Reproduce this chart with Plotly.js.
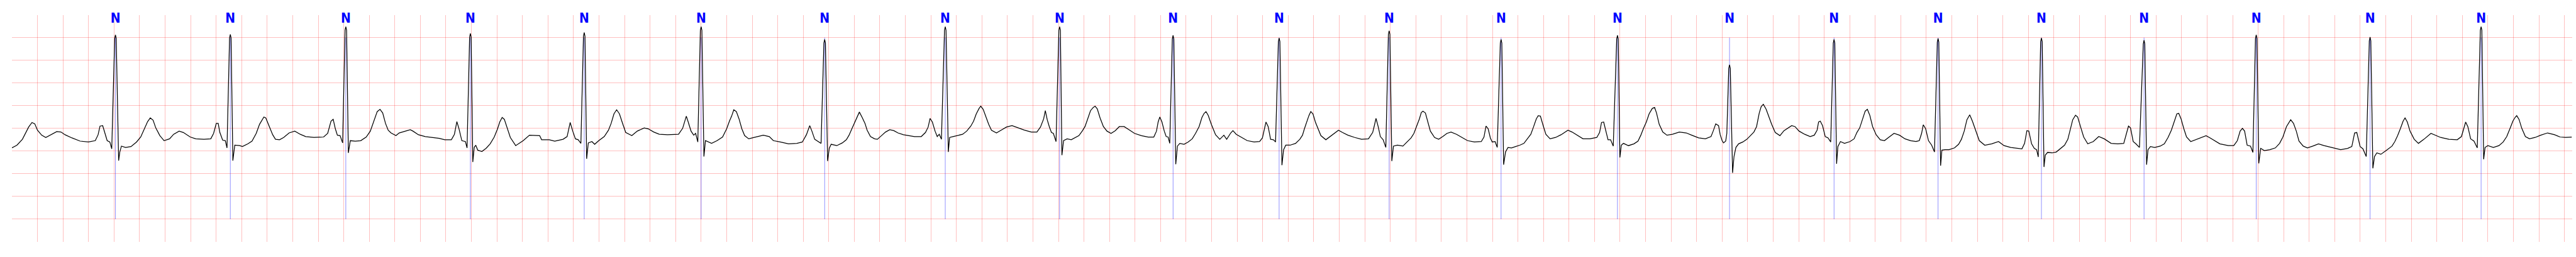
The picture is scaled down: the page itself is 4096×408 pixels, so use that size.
<!DOCTYPE html>
<html>
<head>
<meta charset="utf-8">
<script src="https://cdn.plot.ly/plotly-3.0.1.min.js"></script>
<style>html,body{margin:0;padding:0;background:#fff;}#chart{width:4096px;height:408px;}</style>
</head>
<body>
<div id="chart"></div>
<script>
// ECG samples: [time (s), amplitude (mV)]
const ecg_points = [
[0.000,-0.93],[0.039,-0.87],[0.082,-0.74],[0.114,-0.56],[0.131,-0.47],[0.157,-0.37],[0.179,-0.40],[0.200,-0.54],[0.233,-0.65],[0.265,-0.70],[0.308,-0.63],[0.351,-0.57],[0.384,-0.58],[0.416,-0.64],[0.470,-0.71],[0.534,-0.78],[0.599,-0.80],[0.653,-0.77],[0.675,-0.64],[0.690,-0.45],[0.711,-0.44],[0.724,-0.56],[0.746,-0.77],[0.767,-0.80],[0.782,-0.95],
[0.805,1.48],[0.811,1.56],[0.817,1.48],[0.836,-1.21],
[0.845,-1.02],[0.858,-0.89],[0.890,-0.92],[0.933,-0.90],[0.976,-0.80],[1.009,-0.69],[1.041,-0.49],[1.063,-0.35],[1.084,-0.27],[1.106,-0.32],[1.127,-0.49],[1.159,-0.66],[1.192,-0.77],[1.235,-0.73],[1.267,-0.63],[1.310,-0.56],[1.343,-0.59],[1.397,-0.69],[1.440,-0.73],[1.504,-0.74],[1.558,-0.73],[1.580,-0.61],[1.601,-0.39],[1.616,-0.39],[1.629,-0.59],[1.651,-0.76],[1.672,-0.77],[1.685,-0.93],
[1.705,1.49],[1.711,1.57],[1.717,1.49],[1.731,-1.21],
[1.746,-0.87],[1.784,-0.88],[1.806,-0.90],[1.849,-0.84],[1.881,-0.78],[1.914,-0.61],[1.940,-0.41],[1.974,-0.25],[1.989,-0.27],[2.022,-0.51],[2.043,-0.64],[2.065,-0.74],[2.097,-0.75],[2.129,-0.70],[2.172,-0.60],[2.216,-0.56],[2.259,-0.63],[2.302,-0.68],[2.366,-0.70],[2.442,-0.69],[2.474,-0.61],[2.500,-0.34],[2.517,-0.30],[2.534,-0.51],[2.550,-0.65],[2.571,-0.66],[2.591,-0.82],
[2.610,1.66],[2.616,1.74],[2.622,1.66],[2.636,-1.04],
[2.651,-0.77],[2.690,-0.78],[2.733,-0.77],[2.776,-0.69],[2.808,-0.56],[2.836,-0.34],[2.862,-0.13],[2.884,-0.08],[2.905,-0.16],[2.927,-0.39],[2.948,-0.54],[2.970,-0.60],[3.009,-0.66],[3.034,-0.60],[3.078,-0.56],[3.121,-0.53],[3.142,-0.56],[3.185,-0.64],[3.239,-0.68],
[3.262,-0.69],[3.305,-0.71],[3.348,-0.72],[3.391,-0.75],[3.443,-0.75],[3.467,-0.63],[3.486,-0.35],[3.503,-0.51],[3.525,-0.77],[3.553,-0.79],[3.566,-0.93],
[3.586,1.51],[3.592,1.59],[3.598,1.51],[3.611,-1.24],
[3.622,-0.92],[3.634,-0.87],[3.650,-0.98],[3.682,-1.01],[3.715,-0.94],[3.747,-0.84],[3.779,-0.69],[3.805,-0.51],[3.822,-0.36],[3.841,-0.26],[3.858,-0.30],[3.883,-0.51],[3.905,-0.70],[3.947,-0.88],[3.973,-0.83],[4.006,-0.77],[4.055,-0.65],[4.092,-0.65],[4.135,-0.66],[4.150,-0.75],[4.210,-0.75],[4.253,-0.78],[4.318,-0.74],[4.350,-0.68],[4.374,-0.37],[4.394,-0.56],[4.415,-0.73],[4.437,-0.75],[4.458,-0.83],
[4.478,1.53],[4.484,1.61],[4.490,1.53],[4.503,-1.17],
[4.516,-0.82],[4.544,-0.79],[4.566,-0.85],[4.598,-0.77],[4.641,-0.68],[4.674,-0.54],[4.695,-0.39],[4.717,-0.18],[4.738,-0.09],[4.760,-0.18],[4.781,-0.36],[4.809,-0.59],[4.857,-0.66],[4.900,-0.56],[4.954,-0.49],[4.986,-0.51],[5.029,-0.58],[5.072,-0.63],[5.137,-0.64],[5.191,-0.63],[5.223,-0.63],[5.255,-0.50],[5.284,-0.23],[5.299,-0.36],[5.321,-0.56],[5.342,-0.65],[5.357,-0.61],[5.374,-0.80],
[5.394,1.66],[5.400,1.74],[5.406,1.66],[5.422,-1.12],
[5.434,-0.77],[5.482,-0.83],[5.525,-0.77],[5.568,-0.69],[5.600,-0.51],[5.622,-0.34],[5.639,-0.23],[5.656,-0.09],[5.676,-0.13],[5.697,-0.29],[5.719,-0.51],[5.741,-0.66],[5.773,-0.73],[5.816,-0.70],[5.848,-0.68],[5.887,-0.65],[5.934,-0.68],[5.966,-0.77],[6.020,-0.80],[6.085,-0.84],[6.150,-0.83],[6.193,-0.80],[6.225,-0.64],[6.251,-0.44],[6.268,-0.56],[6.290,-0.74],[6.312,-0.78],[6.340,-0.83],
[6.362,1.38],[6.368,1.46],[6.374,1.38],[6.391,-1.22],
[6.404,-0.94],[6.419,-0.85],[6.463,-0.88],[6.506,-0.82],[6.538,-0.75],[6.559,-0.65],[6.581,-0.51],[6.613,-0.31],[6.640,-0.14],[6.662,-0.26],[6.684,-0.39],[6.701,-0.54],[6.727,-0.68],[6.759,-0.73],[6.781,-0.74],[6.813,-0.66],[6.845,-0.58],[6.878,-0.53],[6.910,-0.55],[6.942,-0.60],[6.985,-0.64],[7.028,-0.66],[7.072,-0.68],[7.125,-0.68],[7.158,-0.59],[7.179,-0.47],[7.194,-0.28],[7.212,-0.36],[7.233,-0.56],[7.250,-0.68],[7.266,-0.63],[7.283,-0.74],
[7.307,1.66],[7.313,1.74],[7.319,1.66],[7.337,-1.02],
[7.347,-0.70],[7.373,-0.68],[7.416,-0.65],[7.449,-0.63],[7.481,-0.56],[7.513,-0.45],[7.535,-0.34],[7.556,-0.18],[7.578,-0.06],[7.591,-0.01],[7.610,-0.08],[7.632,-0.26],[7.653,-0.41],[7.675,-0.54],[7.714,-0.60],[7.750,-0.54],[7.793,-0.47],[7.836,-0.44],[7.891,-0.50],[7.934,-0.54],[7.987,-0.58],[8.031,-0.58],[8.059,-0.47],[8.084,-0.29],[8.097,-0.11],[8.112,-0.31],[8.128,-0.46],[8.145,-0.59],[8.160,-0.61],[8.181,-0.79],
[8.203,1.66],[8.209,1.74],[8.215,1.66],[8.227,-1.09],
[8.240,-0.77],[8.268,-0.73],[8.300,-0.75],[8.332,-0.70],[8.360,-0.66],[8.386,-0.56],[8.408,-0.46],[8.429,-0.29],[8.451,-0.11],[8.472,-0.04],[8.487,-0.01],[8.504,-0.07],[8.526,-0.27],[8.552,-0.46],[8.580,-0.56],[8.612,-0.61],[8.645,-0.55],[8.677,-0.46],[8.714,-0.46],[8.753,-0.53],[8.796,-0.61],[8.850,-0.66],[8.903,-0.69],[8.947,-0.69],[8.968,-0.56],[8.981,-0.36],[8.994,-0.25],[9.011,-0.36],[9.029,-0.56],[9.044,-0.68],[9.059,-0.69],[9.072,-0.83],
[9.092,1.47],[9.098,1.55],[9.104,1.47],[9.119,-1.29],
[9.132,-0.89],[9.151,-0.83],[9.184,-0.85],[9.216,-0.80],[9.248,-0.73],[9.274,-0.61],[9.302,-0.46],[9.324,-0.26],[9.341,-0.17],[9.356,-0.13],[9.373,-0.21],[9.399,-0.42],[9.431,-0.64],[9.464,-0.74],[9.496,-0.65],[9.518,-0.74],[9.550,-0.60],[9.567,-0.55],[9.593,-0.63],[9.636,-0.70],[9.679,-0.77],[9.733,-0.80],[9.776,-0.79],[9.798,-0.71],[9.813,-0.54],[9.826,-0.36],[9.843,-0.46],[9.862,-0.74],[9.884,-0.75],[9.901,-0.80],
[9.923,1.41],[9.929,1.49],[9.935,1.41],[9.951,-1.31],
[9.964,-0.97],[9.981,-0.87],[10.015,-0.87],[10.058,-0.83],[10.091,-0.74],[10.112,-0.65],[10.127,-0.51],[10.144,-0.36],[10.162,-0.22],[10.177,-0.13],[10.194,-0.18],[10.213,-0.36],[10.235,-0.51],[10.256,-0.66],[10.295,-0.75],[10.338,-0.66],[10.371,-0.59],[10.394,-0.54],[10.425,-0.59],[10.468,-0.65],[10.522,-0.70],[10.575,-0.74],[10.629,-0.73],[10.662,-0.59],[10.675,-0.44],[10.688,-0.28],[10.705,-0.46],[10.722,-0.68],[10.744,-0.75],[10.765,-0.92],
[10.785,1.57],[10.791,1.65],[10.797,1.57],[10.812,-1.22],
[10.825,-0.89],[10.856,-0.87],[10.899,-0.89],[10.931,-0.80],[10.963,-0.71],[10.985,-0.61],[11.006,-0.46],[11.028,-0.29],[11.043,-0.15],[11.056,-0.12],[11.075,-0.16],[11.093,-0.36],[11.114,-0.56],[11.147,-0.70],[11.179,-0.74],[11.211,-0.68],[11.244,-0.61],[11.276,-0.58],[11.319,-0.63],[11.362,-0.70],[11.405,-0.77],[11.459,-0.80],[11.513,-0.79],[11.534,-0.69],[11.550,-0.45],[11.567,-0.51],[11.584,-0.71],[11.599,-0.80],[11.621,-0.79],[11.638,-0.92],
[11.662,1.38],[11.668,1.46],[11.674,1.38],[11.688,-1.30],
[11.703,-1.02],[11.722,-0.92],[11.750,-0.93],[11.782,-0.90],[11.815,-0.87],[11.847,-0.83],[11.869,-0.75],[11.901,-0.63],[11.922,-0.47],[11.944,-0.29],[11.959,-0.22],[11.976,-0.23],[11.998,-0.44],[12.019,-0.63],[12.052,-0.73],[12.095,-0.70],[12.138,-0.64],[12.192,-0.54],[12.224,-0.58],[12.267,-0.65],[12.310,-0.73],[12.364,-0.73],[12.418,-0.70],[12.440,-0.59],[12.455,-0.37],[12.472,-0.36],[12.489,-0.56],[12.506,-0.75],[12.526,-0.75],[12.547,-0.89],
[12.574,1.47],[12.580,1.55],[12.586,1.47],[12.599,-1.14],
[12.610,-0.87],[12.627,-0.83],[12.666,-0.88],[12.709,-0.84],[12.741,-0.78],[12.763,-0.65],[12.784,-0.50],[12.806,-0.36],[12.828,-0.18],[12.853,-0.06],[12.871,-0.04],[12.886,-0.16],[12.907,-0.41],[12.935,-0.58],[12.968,-0.65],[13.011,-0.63],[13.065,-0.58],[13.119,-0.60],[13.162,-0.65],[13.216,-0.71],[13.269,-0.73],[13.313,-0.68],[13.330,-0.56],[13.350,-0.40],[13.372,-0.44],[13.385,-0.64],[13.400,-0.77],[13.411,-0.82],[13.428,-0.78],[13.437,-0.61],
[13.452,0.82],[13.458,0.90],[13.464,0.82],[13.482,-1.48],
[13.493,-1.12],[13.508,-0.92],[13.529,-0.84],[13.562,-0.80],[13.594,-0.74],[13.626,-0.65],[13.649,-0.58],[13.670,-0.46],[13.691,-0.16],[13.706,-0.02],[13.723,0.03],[13.745,-0.08],[13.767,-0.26],[13.788,-0.41],[13.816,-0.59],[13.853,-0.66],[13.885,-0.55],[13.917,-0.49],[13.945,-0.44],[13.971,-0.46],[14.003,-0.56],[14.047,-0.63],[14.090,-0.68],[14.122,-0.65],[14.144,-0.54],[14.156,-0.36],[14.169,-0.34],[14.187,-0.44],[14.208,-0.68],[14.230,-0.71],[14.251,-0.80],
[14.271,1.38],[14.277,1.46],[14.283,1.38],[14.297,-1.28],
[14.307,-0.90],[14.327,-0.79],[14.359,-0.83],[14.402,-0.79],[14.434,-0.73],[14.456,-0.59],[14.478,-0.49],[14.499,-0.30],[14.521,-0.12],[14.538,-0.08],[14.557,-0.21],[14.579,-0.46],[14.607,-0.64],[14.639,-0.75],[14.672,-0.77],[14.704,-0.70],[14.747,-0.61],[14.790,-0.65],[14.833,-0.73],[14.877,-0.77],[14.919,-0.79],[14.945,-0.77],[14.963,-0.61],[14.976,-0.42],[14.995,-0.51],[15.017,-0.77],[15.042,-0.87],[15.064,-1.02],
[15.086,1.40],[15.092,1.48],[15.098,1.40],[15.112,-1.32],
[15.122,-0.98],[15.146,-0.97],[15.178,-0.97],[15.221,-0.93],[15.253,-0.85],[15.275,-0.74],[15.297,-0.56],[15.318,-0.31],[15.340,-0.20],[15.361,-0.34],[15.383,-0.51],[15.415,-0.77],[15.458,-0.87],[15.512,-0.84],[15.566,-0.79],[15.609,-0.88],[15.662,-0.92],[15.717,-0.94],[15.749,-0.95],[15.770,-0.83],[15.788,-0.55],[15.803,-0.56],[15.825,-0.84],[15.846,-0.94],[15.864,-0.97],[15.877,-1.13],
[15.896,1.41],[15.902,1.49],[15.908,1.41],[15.922,-1.35],
[15.932,-1.09],[15.950,-1.03],[15.986,-1.04],[16.018,-1.02],[16.050,-0.95],[16.083,-0.87],[16.109,-0.74],[16.131,-0.50],[16.147,-0.31],[16.169,-0.21],[16.186,-0.25],[16.208,-0.46],[16.233,-0.69],[16.265,-0.84],[16.308,-0.79],[16.351,-0.68],[16.394,-0.73],[16.448,-0.83],[16.500,-0.84],[16.547,-0.83],[16.567,-0.61],[16.584,-0.45],[16.600,-0.49],[16.621,-0.79],[16.642,-0.84],[16.670,-0.92],
[16.700,1.36],[16.706,1.44],[16.712,1.36],[16.726,-1.30],
[16.737,-0.97],[16.756,-0.90],[16.789,-0.92],[16.833,-0.89],[16.865,-0.84],[16.894,-0.70],[16.920,-0.54],[16.941,-0.36],[16.963,-0.18],[16.978,-0.17],[16.996,-0.29],[17.018,-0.51],[17.039,-0.69],[17.072,-0.79],[17.115,-0.74],[17.159,-0.69],[17.192,-0.66],[17.224,-0.71],[17.257,-0.77],[17.300,-0.84],[17.366,-0.88],[17.409,-0.88],[17.437,-0.77],[17.459,-0.56],[17.477,-0.50],[17.494,-0.56],[17.514,-0.87],[17.540,-0.89],[17.559,-1.03],
[17.579,1.48],[17.585,1.56],[17.591,1.48],[17.605,-1.27],
[17.620,-0.94],[17.648,-0.99],[17.692,-0.97],[17.735,-0.93],[17.768,-0.83],[17.794,-0.69],[17.822,-0.46],[17.855,-0.31],[17.877,-0.39],[17.899,-0.56],[17.920,-0.78],[17.953,-0.89],[17.986,-0.93],[18.029,-0.89],[18.073,-0.84],[18.116,-0.88],[18.181,-0.93],[18.247,-0.97],[18.301,-0.94],[18.334,-0.90],[18.356,-0.60],[18.373,-0.59],[18.399,-0.90],[18.421,-0.95],[18.447,-1.12],
[18.471,1.43],[18.477,1.51],[18.483,1.43],[18.499,-1.38],
[18.512,-1.12],[18.530,-1.04],[18.562,-1.07],[18.606,-0.98],[18.649,-0.89],[18.671,-0.79],[18.693,-0.66],[18.714,-0.51],[18.736,-0.34],[18.751,-0.27],[18.769,-0.36],[18.790,-0.56],[18.823,-0.74],[18.856,-0.83],[18.899,-0.74],[18.954,-0.61],[18.986,-0.65],[19.030,-0.70],[19.095,-0.74],[19.160,-0.75],[19.193,-0.68],[19.210,-0.51],[19.226,-0.36],[19.243,-0.46],[19.265,-0.73],[19.291,-0.78],[19.317,-0.93],
[19.341,1.66],[19.347,1.74],[19.353,1.66],[19.367,-1.18],
[19.378,-0.92],[19.400,-0.88],[19.443,-0.92],[19.487,-0.88],[19.520,-0.80],[19.548,-0.68],[19.574,-0.50],[19.596,-0.34],[19.613,-0.26],[19.626,-0.22],[19.644,-0.30],[19.666,-0.50],[19.694,-0.68],[19.726,-0.73],[19.770,-0.70],[19.814,-0.65],[19.868,-0.60],[19.923,-0.64],[19.966,-0.69],[20.009,-0.70],[20.057,-0.69]
];

// Beat annotations (time of each labelled beat, s) and their symbols
const beat_times = [0.811, 1.711, 2.616, 3.592, 4.484, 5.400, 6.368, 7.313, 8.209, 9.098, 9.929,
                    10.791, 11.668, 12.580, 13.458, 14.277, 15.092, 15.902, 16.706, 17.585, 18.477, 19.347];
const beat_labels = ['N','N','N','N','N','N','N','N','N','N','N',
                     'N','N','N','N','N','N','N','N','N','N','N'];

// axis extents (s, mV)
const x_range = [0, 20.061];
const y_range = [-3.0, 1.995];
const marker_span = [-2.5, 1.5];
const label_level = 1.897;

const ecgTrace = {
  x: ecg_points.map(p => p[0]),
  y: ecg_points.map(p => p[1]),
  type: 'scatter', mode: 'lines',
  line: {color: '#000000', width: 1.25},
  hoverinfo: 'skip'
};

const mx = [], my = [];
beat_times.forEach(t => { mx.push(t, t, null); my.push(marker_span[0], marker_span[1], null); });
const markerTrace = {
  x: mx, y: my, type: 'scatter', mode: 'lines',
  line: {color: 'rgba(0,0,255,0.55)', width: 0.8},
  hoverinfo: 'skip'
};

const labelTrace = {
  x: beat_times,
  y: beat_times.map(() => label_level),
  text: beat_labels.map(s => '<b>' + s + '</b>'),
  type: 'scatter', mode: 'text',
  textposition: 'middle center',
  textfont: {family: '"Liberation Sans Narrow", "DejaVu Sans Condensed", "Liberation Sans", Arial, sans-serif', size: 21, color: '#0000ff'},
  hoverinfo: 'skip', cliponaxis: false
};

const gridColor = 'rgba(255,0,0,0.25)';
const layout = {
  width: 4096, height: 408,
  margin: {l: 18.68, r: 6.3, t: 23.77, b: 24.1, pad: 0},
  paper_bgcolor: '#ffffff', plot_bgcolor: '#ffffff',
  showlegend: false,
  xaxis: {range: x_range, tick0: 0, dtick: 0.2, showgrid: true, gridcolor: gridColor, gridwidth: 1,
          showticklabels: false, ticks: '', zeroline: false, showline: false, fixedrange: true},
  yaxis: {range: y_range, tick0: -3, dtick: 0.5, showgrid: true, gridcolor: gridColor, gridwidth: 1,
          showticklabels: false, ticks: '', zeroline: false, showline: false, fixedrange: true}
};

Plotly.newPlot('chart', [markerTrace, ecgTrace, labelTrace], layout, {staticPlot: true, displayModeBar: false});
</script>
</body>
</html>
